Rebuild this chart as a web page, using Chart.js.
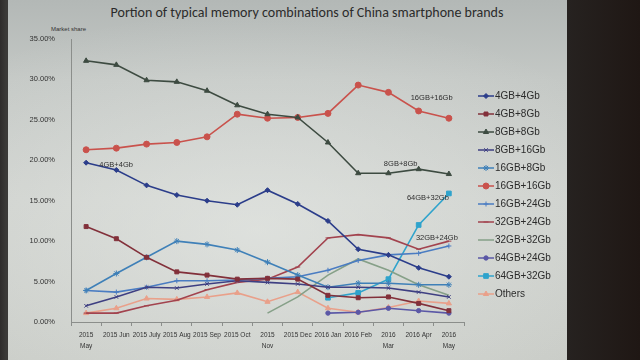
<!DOCTYPE html>
<html>
<head>
<meta charset="utf-8">
<script src="https://cdn.jsdelivr.net/npm/chart.js@4/dist/chart.umd.min.js"></script>
<style>
  html, body { margin: 0; padding: 0; }
  body {
    width: 640px; height: 360px; overflow: hidden; position: relative;
    background: linear-gradient(90deg, #2e2c2b 0px, #3b3a38 6px, #262220 567px, #1f1714 640px);
  }
  #slide {
    position: absolute; left: 8px; top: 0; width: 559px; height: 360px;
    background:
      radial-gradient(ellipse 420px 220px at 250px 230px, rgba(235,238,235,0.55), rgba(235,238,235,0) 100%),
      linear-gradient(180deg, #b3b8b6 0px, #c4c8c5 80px, #cdd0cc 200px, #c9ccc7 360px);
  }
  #title {
    position: absolute; top: 4px; left: 0; width: 614px; text-align: center;
    font-family: Carlito, "Liberation Sans Narrow", "Open Sans", sans-serif;
    font-size: 14px; color: #2b2b2b; white-space: nowrap;
  }
  #ylabel {
    position: absolute; top: 26px; left: 51px;
    font-family: "Liberation Sans", sans-serif; font-size: 6px; color: #333; white-space: nowrap;
  }
  canvas { position: absolute; left: 0; top: 0; }
</style>
</head>
<body>
<div id="slide"></div>
<div id="title">Portion of typical memory combinations of China smartphone brands</div>
<div id="ylabel">Market share</div>
<canvas id="myChart" width="640" height="360"></canvas>
<script>
const months = [['2015', 'May'], '2015 Jun', '2015 July', '2015 Aug', '2015 Sep', '2015 Oct', ['2015', 'Nov'],
  '2015 Dec', '2016 Jan', '2016 Feb', ['2016', 'Mar'], '2016 Apr', ['2016', 'May']];

const seriesNames = ['4GB+4Gb', '4GB+8Gb', '8GB+8Gb', '8GB+16Gb', '16GB+8Gb', '16GB+16Gb',
  '16GB+24Gb', '32GB+24Gb', '32GB+32Gb', '64GB+24Gb', '64GB+32Gb', 'Others'];

// market share, percent
const gb4gb4 = [19.7, 18.8, 16.9, 15.7, 15.0, 14.5, 16.3, 14.6, 12.5, 9.0, 8.3, 6.7, 5.6];
const gb4gb8 = [11.8, 10.3, 8.0, 6.2, 5.8, 5.3, 5.4, 5.3, 3.3, 3.0, 3.1, 2.3, 1.4];
const gb8gb8 = [32.3, 31.8, 29.9, 29.7, 28.6, 26.8, 25.7, 25.3, 22.2, 18.4, 18.4, 18.9, 18.3];
const gb8gb16 = [2.0, 3.1, 4.3, 4.2, 4.7, 5.1, 4.9, 4.7, 4.3, 4.3, 4.2, 3.7, 3.1];
const gb16gb8 = [3.9, 6.0, 8.0, 10.0, 9.6, 8.9, 7.4, 5.8, 4.3, 4.8, 4.8, 4.6, 4.6];
const gb16gb16 = [21.3, 21.5, 22.0, 22.2, 22.9, 25.7, 25.2, 25.3, 25.8, 29.3, 28.4, 26.1, 25.2];
const gb16gb24 = [3.9, 3.7, 4.3, 5.1, 5.1, 5.2, 5.4, 5.6, 6.4, 7.6, 8.3, 8.5, 9.4];
const gb32gb24 = [1.1, 1.1, 2.0, 2.7, 4.0, 4.9, 5.3, 6.8, 10.4, 10.8, 10.4, 9.0, 10.0];
const gb32gb32 = [null, null, null, null, null, null, 1.1, 3.1, 5.8, 7.8, 6.4, 4.6, 3.3];
const gb64gb24 = [null, null, null, null, null, null, null, null, 1.1, 1.2, 1.7, 1.4, 1.1];
const gb64gb32 = [null, null, null, null, null, null, null, null, 3.0, 3.6, 5.3, 12.0, 15.9];
const others = [1.1, 1.7, 2.9, 2.8, 3.1, 3.6, 2.5, 3.7, 1.7, 1.2, 1.8, 2.6, 2.3];

const yTicks = [0, 5, 10, 15, 20, 25, 30, 35];

const allValues = [gb4gb4, gb4gb8, gb8gb8, gb8gb16, gb16gb8, gb16gb16,
  gb16gb24, gb32gb24, gb32gb32, gb64gb24, gb64gb32, others];

const colors = ['#2b3d8a', '#82303a', '#3d4b41', '#3e3f82', '#3f80b8', '#c9524c',
  '#4a7cc2', '#a2434e', '#86a088', '#5b58a6', '#2fa3cc', '#e9a08a'];
const markers = ['rectRot', 'rect', 'triangle', 'crossRot', 'star', 'circle',
  'cross', 'line', false, 'circle', 'rect', 'triangle'];
const radii = [2.5, 2.8, 3, 2.5, 3, 3, 2.5, 2.5, 0, 2.2, 3.3, 3];

const datasets = seriesNames.map((name, i) => {
  return {
    label: name,
    data: allValues[i],
    borderColor: colors[i],
    backgroundColor: colors[i],
    pointBackgroundColor: colors[i],
    pointBorderColor: colors[i],
    pointStyle: markers[i],
    pointRadius: radii[i],
    pointBorderWidth: 1,
    borderWidth: 1.6,
    tension: 0,
    spanGaps: false
  };
});

// labels written next to some points, like the slide
const pointLabels = [
  { ds: 0, idx: 0, text: '4GB+4Gb', dx: 30, dy: 2 },
  { ds: 5, idx: 11, text: '16GB+16Gb', dx: 13, dy: -13 },
  { ds: 2, idx: 11, text: '8GB+8Gb', dx: -18, dy: -5 },
  { ds: 10, idx: 12, text: '64GB+32Gb', dx: -21, dy: 5 },
  { ds: 7, idx: 12, text: '32GB+24Gb', dx: -12, dy: -3 }
];

const pointLabelPlugin = {
  id: 'pointLabels',
  afterDatasetsDraw(chart) {
    const ctx = chart.ctx;
    ctx.save();
    ctx.font = '7.5px "Liberation Sans", sans-serif';
    ctx.fillStyle = '#2e2e2e';
    ctx.textAlign = 'center';
    ctx.textBaseline = 'middle';
    pointLabels.forEach((l) => {
      const pt = chart.getDatasetMeta(l.ds).data[l.idx];
      ctx.fillText(l.text, pt.x + l.dx, pt.y + l.dy);
    });
    ctx.restore();
  }
};

// legend with line + marker, drawn at the right like the slide
const sideLegend = {
  id: 'sideLegend',
  afterDraw(chart) {
    const ctx = chart.ctx;
    const x0 = 478, y0 = 96, step = 18;
    ctx.save();
    chart.data.datasets.forEach((ds, i) => {
      const y = y0 + i * step;
      ctx.strokeStyle = ds.borderColor;
      ctx.fillStyle = ds.borderColor;
      ctx.lineWidth = 1.5;
      ctx.beginPath();
      ctx.moveTo(x0, y);
      ctx.lineTo(x0 + 16, y);
      ctx.stroke();
      if (ds.pointStyle) {
        ctx.lineWidth = 1;
        Chart.helpers.drawPoint(ctx, { pointStyle: ds.pointStyle, radius: ds.pointRadius, rotation: 0, borderWidth: 1 }, x0 + 8, y);
      }
      ctx.font = '10px "Liberation Sans", sans-serif';
      ctx.fillStyle = '#2c2c2c';
      ctx.textBaseline = 'middle';
      ctx.fillText(ds.label, x0 + 17, y + 0.5);
    });
    ctx.restore();
  }
};

const ctx = document.getElementById('myChart');
const myChart = new Chart(ctx, {
  type: 'line',
  data: { labels: months, datasets: datasets },
  plugins: [pointLabelPlugin, sideLegend],
  options: {
    responsive: false,
    animation: false,
    layout: { padding: { left: 0, right: 176, top: 39, bottom: 0 } },
    plugins: {
      legend: { display: false },
      title: { display: false },
      tooltip: { enabled: false }
    },
    scales: {
      x: {
        type: 'category',
        offset: true,
        afterFit(scale) { scale.height = 38; },
        border: { display: true, color: '#8b8e8b', width: 1 },
        grid: { display: true, drawOnChartArea: false, offset: true, tickLength: 4, color: '#8b8e8b' },
        ticks: {
          autoSkip: false, maxRotation: 0, minRotation: 0, padding: 4,
          color: '#333', font: { family: '"Liberation Sans", sans-serif', size: 6.5, lineHeight: 1.65 }
        }
      },
      y: {
        min: 0, max: 35,
        afterFit(scale) { scale.width = 71; },
        afterBuildTicks(scale) { scale.ticks = yTicks.map((v) => ({ value: v })); },
        border: { display: true, color: '#8b8e8b', width: 1 },
        grid: { display: false },
        ticks: {
          padding: 8,
          color: '#333',
          font: { family: '"Liberation Sans", sans-serif', size: 7.5 },
          callback: (v) => v.toFixed(2) + '%'
        }
      }
    }
  }
});
</script>
</body>
</html>
